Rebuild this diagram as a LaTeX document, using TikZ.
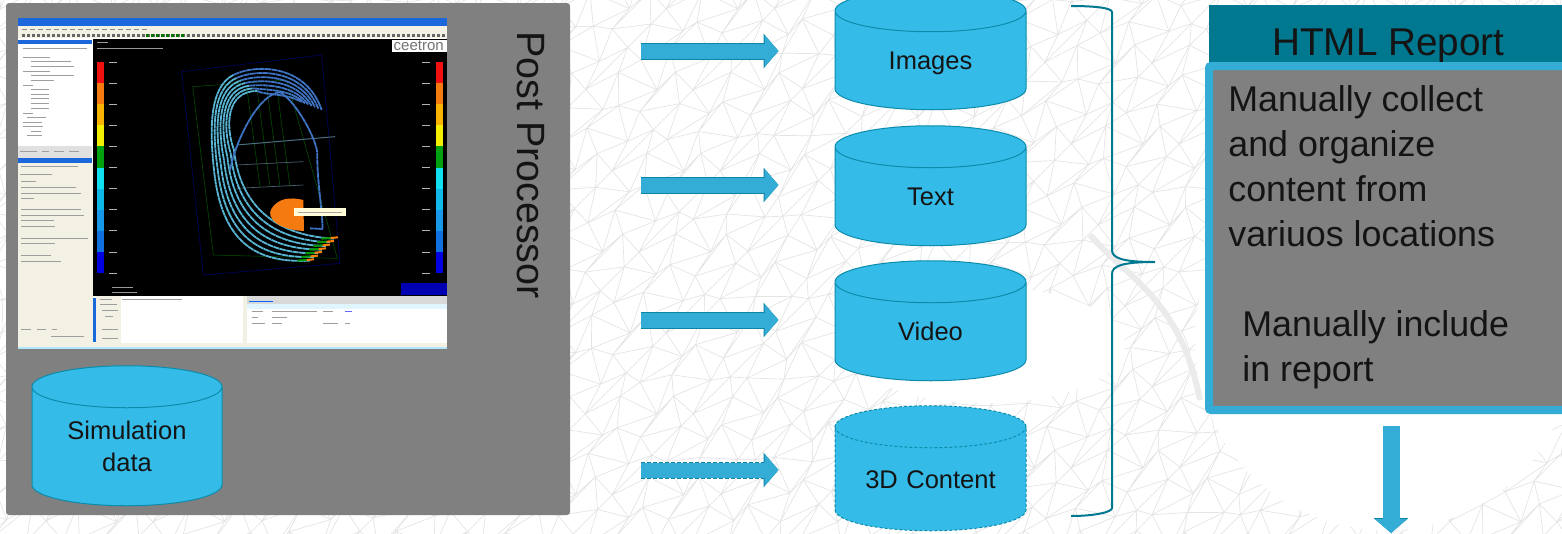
\documentclass[tikz,border=0pt]{standalone}
\usepackage{fontspec}
\setmainfont{Liberation Sans}
\usepackage{tikz}
\usetikzlibrary{arrows.meta, shapes.geometric, positioning}
\definecolor{panelgray}{HTML}{808080}
\definecolor{cylblue}{HTML}{35BBE8}
\definecolor{cyledge}{HTML}{0C8CAB}
\definecolor{arrowblue}{HTML}{33ACD6}
\definecolor{arrowedge}{HTML}{0C84A3}
\definecolor{headteal}{HTML}{00788F}
\definecolor{meshgray}{HTML}{E4E4E4}
\definecolor{inkblack}{HTML}{141414}
\definecolor{winblue}{HTML}{1A68DC}
\definecolor{wincream}{HTML}{F3F1E4}
\definecolor{streamlow}{HTML}{58B6D4}
\definecolor{streamtop}{HTML}{3F74C4}
\definecolor{bar0}{HTML}{F01010}
\definecolor{bar1}{HTML}{F57A10}
\definecolor{bar2}{HTML}{F8B400}
\definecolor{bar3}{HTML}{F4EE00}
\definecolor{bar4}{HTML}{00A010}
\definecolor{bar5}{HTML}{10E0F0}
\definecolor{bar6}{HTML}{10B8E8}
\definecolor{bar7}{HTML}{1898E8}
\definecolor{bar8}{HTML}{1070E0}
\definecolor{bar9}{HTML}{0000E0}
\tikzset{>=stealth,
  declare function={meshx(\i,\j)=\i*27+9*sin(97*\i+211*\j); meshy(\i,\j)=\j*27+9*cos(173*\i+59*\j);},
  meshline/.style={draw=meshgray, line width=.7pt},
  datacyl/.style={cylinder, shape border rotate=90, aspect=0.3, draw=cyledge, fill=cylblue, line width=1pt,
    minimum width=191pt, minimum height=120pt, inner sep=0pt, outer sep=0pt, align=center, text=inkblack,
    text width=140pt, text height=18.3pt, text depth=0pt, font=\fontsize{25.5}{32}\selectfont},
  blockarrow/.style={line width=15pt, draw=arrowblue, -{Triangle[length=14pt,width=31pt]},
    preaction={draw=arrowedge, line width=17pt, -{Triangle[length=15pt,width=34pt]}}},
  blockdash/.style={line width=15pt, draw=arrowblue, -{Triangle[length=14pt,width=31pt]},
    preaction={draw=arrowedge, line width=17pt, dash pattern=on 4pt off 2pt, -{Triangle[length=15pt,width=34pt]}}},
  bracket/.style={draw=headteal, line width=2pt},
  reportline/.style={anchor=north west, align=left, text=inkblack, font=\fontsize{35.8}{45}\selectfont},
  stub/.style={draw=black!38, line width=1pt},
  stream/.style={draw=streamlow, line width=1.8pt, dash pattern=on 6pt off .5pt},
  wire/.style={draw=green!35!black, line width=.5pt}
}
\begin{document}
\begin{tikzpicture}[x=1pt,y=-1pt,thick]
\useasboundingbox (0,0) rectangle (1562,533);
\clip (0,0) rectangle (1562,533);
\foreach \i in {-1,...,58}{\foreach \j in {-1,...,20}{
  \draw[meshline] ({meshx(\i,\j+1)},{meshy(\i,\j+1)}) -- ({meshx(\i,\j)},{meshy(\i,\j)}) -- ({meshx(\i+1,\j)},{meshy(\i+1,\j)}) -- ({meshx(\i,\j+1)},{meshy(\i,\j+1)});
}}
\draw[black!8, line width=6pt] (1090,235) .. controls (1130,280) and (1180,300) .. (1200,400);
\fill[white] (1385,340) circle (190);
\fill[white] (985,345) ellipse (140 and 58);
% post processor panel
\node (Pan) [fill=panelgray, rounded corners=3pt, minimum width=564pt, minimum height=512pt, inner sep=0pt] at (288,259) {};
\node (Post) [rotate=-90, text=inkblack, font=\fontsize{39.5}{46}\selectfont] at (531,165) {Post Processor};
% screenshot
\fill[white] (18,18) rectangle (447,349);
\fill[wincream] (18,26) rectangle (447,38);
\fill[wincream] (18,163) rectangle (93,347);
\fill[winblue] (18,18) rectangle (447,26);
\fill[winblue] (18,40) rectangle (92,44);
\fill[winblue] (18,158) rectangle (92,163);
\fill[black] (93,39) rectangle (447,296);
\fill[black!12] (18,146) rectangle (92,158);
\fill[cyan!30] (18,347) rectangle (447,349);
\draw[black!45, line width=1pt, dash pattern=on 5pt off 3pt] (22,29.5) -- (150,29.5);
\draw[black!60, line width=3pt, dash pattern=on 3pt off 2pt] (22,35) -- (445,35);
\draw[green!45!black, line width=3pt, dash pattern=on 3pt off 2pt] (146,35) -- (186,35);
\begin{scope}[shift={(14,14)},scale=1/3]
\foreach \x/\y/\l in {28/102/190,28/130/80,50/143/120,50/157/130,28/172/80,50/185/130,50/198/70,28/215/30,50/225/55,50/240/55,50/254/55,50/268/55,50/282/55,28/297/30,40/310/55,28/325/55,28/338/60,50/352/30,38/365/45,18/412/50,85/412/20,120/412/30,165/412/30,22/458/170,18/482/95,22/502/45,22/520/165,20/538/180,20/553/40,20/585/180,20/605/190,20/620/100,22/637/100,22/672/200,22/689/100,22/723/90,20/742/120,20/945/30,70/945/25,115/945/15,110/968/100}
  \draw[stub] (\x,\y) -- ++(\l,0);
\end{scope}
% colour bars
\foreach \x in {97,436}{
  \foreach \n in {0,...,9}
    \fill[bar\n] (\x,{62+21.1*\n}) rectangle ({\x+7},{62+21.1*(\n+1)});
  \foreach \n in {0,...,10} \draw[black!30, line width=.8pt] ({\x+(\x<200 ? 12 : -14)},{62+21.1*\n}) -- ++(8,0);
}
\begin{scope}[shift={(90,30)},scale=1/3]
\draw[blue!45!black, line width=.5pt] (275,125) -- (695,75) -- (750,700) -- (340,735) -- cycle;
\draw[wire] (308,170) -- (590,150) -- (742,685) -- (370,675) -- cycle;
\foreach \x in {470,500,530,560}
  \draw[wire] (\x,170) -- ({\x+40},470);
\draw[cyan!45!black, line width=1pt] (440,345) -- (735,320);
\draw[cyan!35!black, line width=.7pt] (440,405) -- (640,395);
\draw[cyan!35!black, line width=.7pt] (440,475) -- (640,465);
\foreach \k in {0,...,6}{
  \draw[stream] ({660+12*\k},{692-11*\k}) .. controls ({500+8*\k},{700-14*\k}) and ({395+9*\k},{640-20*\k}) .. ({372+10*\k},{420-10*\k})
    .. controls ({358+8*\k},{290}) and ({360+8*\k},{170+2*\k}) .. ({430+12*\k},{135+8*\k});
  \draw[stream, streamtop] ({430+12*\k},{135+8*\k}) .. controls ({500+4*\k},{100+16*\k}) and ({650-10*\k},{105+14*\k}) .. ({695-10*\k},{240-4*\k});
  \draw[green!60!black, line width=2pt] ({622+12*\k},{692-11*\k}) -- ({650+12*\k},{690-11*\k});
  \draw[orange, line width=2pt] ({650+12*\k},{690-11*\k}) -- ({672+12*\k},{688-11*\k});
}
\draw[stream, streamtop] (420,420) .. controls (440,320) and (510,190) .. (570,187) .. controls (620,215) and (680,330) .. (682,370) .. controls (680,450) and (700,560) .. (697,597) -- (660,595);
\fill[bar1] (640,510) .. controls (600,500) and (565,505) .. (545,535) .. controls (525,565) and (570,600) .. (642,603) -- cycle;
\fill[yellow!15] (612,534) rectangle (768,559);
\draw[black!35, line width=1pt] (625,546) -- (755,546);
\fill[white] (905,30) rectangle (1071,67);
\node (Logo) [anchor=west, inner sep=0pt, text=black!55, font=\fontsize{15}{15}\selectfont] at (910,46) {ceetron};
\fill[blue!70!black] (932,758) rectangle (1071,795);
\draw[black!40, line width=1pt] (65,772) -- (130,772);
\draw[black!40, line width=1pt] (65,786) -- (140,786);
\draw[black!40, line width=1pt] (22,37) -- (55,37);
\draw[black!40, line width=1pt] (22,55) -- (218,55);
\end{scope}
% bottom strip of the screenshot
\fill[wincream] (96,296) rectangle (121,343);
\fill[winblue] (93,298) rectangle (96,342);
\fill[black!15] (243,296) rectangle (447,304);
\fill[cyan!12] (247,304) rectangle (447,309);
\fill[wincream] (243,296) rectangle (247,347);
\fill[wincream] (18,343) rectangle (447,347);
\begin{scope}[shift={(90,280)},scale=1/3]
\foreach \x/\y/\l in {30/59/35,95/59/180,30/73/50,35/90/50,45/108/25,35/148/50,35/174/50,485/95/35,545/95/135,700/95/30,485/113/20,545/113/45,485/129/40,545/129/30,700/129/45,765/129/15}
  \draw[stub] (\x,\y) -- ++(\l,0);
\draw[blue!60!cyan, line width=1pt] (478,64) -- (550,64);
\draw[blue!60, line width=1pt] (765,95) -- (785,95);
\end{scope}
% cylinders
\node (C0) [datacyl, minimum width=190pt, minimum height=140pt] at (127,446.5) {};
\node (T0) [align=center, text=inkblack, font=\fontsize{25.5}{32}\selectfont] at (C0.center) {Simulation\\data};
\node (C1) [datacyl] at (930.5,60.5) {Images};
\node (C2) [datacyl] at (930.5,196.5) {Text};
\node (C3) [datacyl] at (930.5,331.5) {Video};
\node (C4) [datacyl, dashed, dash pattern=on 3pt off 2pt, minimum height=125pt] at (930.5,479) {3D Content};
% arrows
\coordinate (A1) at (641,51);
\coordinate (A2) at (641,185);
\coordinate (A3) at (641,320);
\coordinate (A4) at (641,470);
\draw[blockarrow, shorten >=152pt] (A1) -- (A1 -| C1.center);
\draw[blockarrow, shorten >=152pt] (A2) -- (A2 -| C2.center);
\draw[blockarrow, shorten >=152pt] (A3) -- (A3 -| C3.center);
\draw[blockdash, shorten >=152pt] (A4) -- (A4 -| C4.center);
% bracket
\coordinate (B1) at (1071,6);
\coordinate (B2) at (1155,262);
\coordinate (B3) at (1071,516);
\draw[bracket] (B1) .. controls (1095,6) and (1112,8) .. (1112,12) -- (1112,250) .. controls (1112,258) and (1122,262) .. (B2)
  .. controls (1122,262) and (1112,266) .. (1112,274) -- (1112,508) .. controls (1112,512) and (1095,516) .. (B3);
% report
\node (Hdr) [fill=headteal, minimum width=364pt, minimum height=60pt, inner sep=0pt] at (1391,35) {};
\node (Ttl) [text=inkblack, font=\fontsize{38.7}{46}\selectfont] at (1388.5,46) {HTML Report};
\node (Rep) [fill=panelgray, draw=arrowblue, line width=8pt, rounded corners=2pt, minimum width=364pt, minimum height=344pt, inner sep=0pt] at (1391,238) {};
\node (R1) [reportline, inner sep=0pt] at (1228,85) {Manually collect\\and organize\\content from\\variuos locations};
\node (R2) [reportline, inner sep=0pt] at (1242,310) {Manually include\\in report};
\coordinate (Out) at (1391,533);
\draw[blockarrow, line width=17pt, shorten <=12pt] (Rep.south) -- (Out);
\end{tikzpicture}
\end{document}
